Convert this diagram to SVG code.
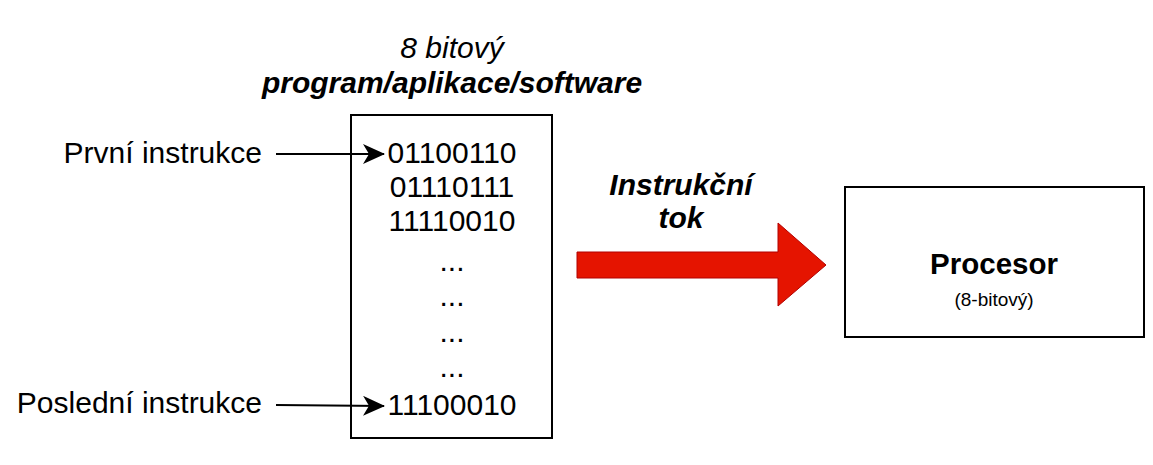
<svg xmlns="http://www.w3.org/2000/svg" width="1153" height="465" viewBox="0 0 1153 465">
<style>
text{font-family:"Liberation Sans",Arial,sans-serif;fill:#000}
.t{font-size:30px}
.c{text-anchor:middle}
.box{fill:#fff;stroke:#000;stroke-width:2}
.ln{stroke:#000;stroke-width:2;fill:none}
</style>
<defs>
<marker id="ah" markerWidth="22" markerHeight="20" refX="21" refY="10" orient="auto" markerUnits="userSpaceOnUse" viewBox="0 0 22 20">
<path d="M0,0 L22,10 L0,20 L6,10 Z" fill="#000"/>
</marker>
</defs>
<rect width="1153" height="465" fill="#fff"/>
<g id="title">
<text class="t c" x="452" y="58" font-style="italic">8 bitový</text>
<text class="t c" x="452" y="93" font-style="italic" font-weight="bold">program/aplikace/software</text>
</g>
<g id="program">
<rect class="box" x="351" y="115" width="201" height="323"/>
<text class="t c" x="452" y="163">01100110</text>
<text class="t c" x="452" y="197">01110111</text>
<text class="t c" x="452" y="231">11110010</text>
<text class="t c" x="452" y="271">...</text>
<text class="t c" x="452" y="306">...</text>
<text class="t c" x="452" y="342">...</text>
<text class="t c" x="452" y="377">...</text>
<text class="t c" x="452" y="415">11100010</text>
</g>
<g id="label-first">
<text class="t" x="262" y="163" text-anchor="end">První instrukce</text>
</g>
<g id="label-last">
<text class="t" x="262" y="413" text-anchor="end">Poslední instrukce</text>
</g>
<g id="flow">
<path d="M577,252 L778,252 L778,223 L826,265 L778,306 L778,278 L577,278 Z" fill="#e51400" stroke="#b20000" stroke-width="1"/>
<text class="t c" x="681" y="195" font-style="italic" font-weight="bold">Instrukční</text>
<text class="t c" x="681" y="228" font-style="italic" font-weight="bold">tok</text>
</g>
<g id="processor">
<rect class="box" x="845" y="187" width="299" height="150"/>
<text class="c" x="994" y="274" font-size="29.5" font-weight="bold">Procesor</text>
<text class="c" x="994" y="306" font-size="19">(8-bitový)</text>
</g>
<g id="connectors">
<path class="ln" d="M276,154 L384,154" marker-end="url(#ah)"/>
<path class="ln" d="M276,405 L384,406" marker-end="url(#ah)"/>
</g>
</svg>
